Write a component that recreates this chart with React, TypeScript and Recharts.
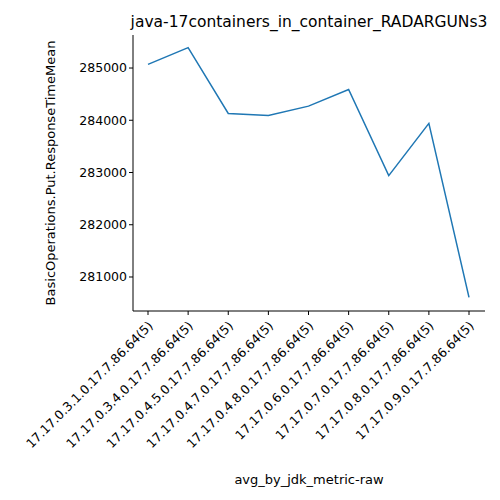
import { LineChart, Line, XAxis, YAxis, Label } from "recharts";

const categories = [
  "17.17.0.3.1.0.17.7.86.64(5)",
  "17.17.0.3.4.0.17.7.86.64(5)",
  "17.17.0.4.5.0.17.7.86.64(5)",
  "17.17.0.4.7.0.17.7.86.64(5)",
  "17.17.0.4.8.0.17.7.86.64(5)",
  "17.17.0.6.0.17.7.86.64(5)",
  "17.17.0.7.0.17.7.86.64(5)",
  "17.17.0.8.0.17.7.86.64(5)",
  "17.17.0.9.0.17.7.86.64(5)",
];
const values = [285070, 285390, 284130, 284090, 284270, 284590, 282940, 283940, 280610];
const yTicks = [281000, 282000, 283000, 284000, 285000];

const data = categories.map((name, i) => ({ name, value: values[i] }));
const font = "DejaVu Sans, sans-serif";

function XTick(props: any) {
  const { x, y, payload } = props;
  return (
    <g transform={`translate(${x},${y + 4})`}>
      <text transform="rotate(-45)" textAnchor="end" dy={8} fontSize={12.5} fill="#000" fontFamily={font}>
        {payload.value}
      </text>
    </g>
  );
}

export default function App() {
  return (
    <div style={{ margin: -8, width: 500, height: 500, overflow: "hidden", background: "#fff" }}>
      <LineChart width={500} height={500} data={data} margin={{ top: 35, right: 15, bottom: 0, left: 0 }}>
        <text x={309} y={27} textAnchor="middle" fontSize={15.5} fontFamily={font} fill="#000">
          java-17containers_in_container_RADARGUNs3
        </text>
        <XAxis
          dataKey="name"
          interval={0}
          padding={{ left: 15, right: 16 }}
          tick={<XTick />}
          tickLine={{ stroke: "#000" }}
          tickSize={4}
          axisLine={{ stroke: "#000" }}
          height={189}
        >
          <Label value="avg_by_jdk_metric-raw" position="insideBottom" offset={16} fontSize={13} fill="#000" fontFamily={font} />
        </XAxis>
        <XAxis xAxisId="top" orientation="top" dataKey="name" tick={false} tickLine={false} axisLine={{ stroke: "#000" }} height={0} />
        <YAxis
          domain={[280349, 285632]}
          ticks={yTicks}
          width={133}
          tickSize={4}
          tickLine={{ stroke: "#000" }}
          axisLine={{ stroke: "#000" }}
          tick={{ fontSize: 12.5, fill: "#000", fontFamily: font }}
        >
          <Label value="BasicOperations.Put.ResponseTimeMean" angle={-90} position="insideLeft" offset={50} fontSize={13} fill="#000" fontFamily={font} style={{ textAnchor: "middle" }} />
        </YAxis>
        <YAxis yAxisId="right" orientation="right" tick={false} tickLine={false} axisLine={{ stroke: "#000" }} width={0} />
        <Line type="linear" dataKey="value" stroke="#1f77b4" strokeWidth={1.5} dot={false} isAnimationActive={false} />
      </LineChart>
    </div>
  );
}
